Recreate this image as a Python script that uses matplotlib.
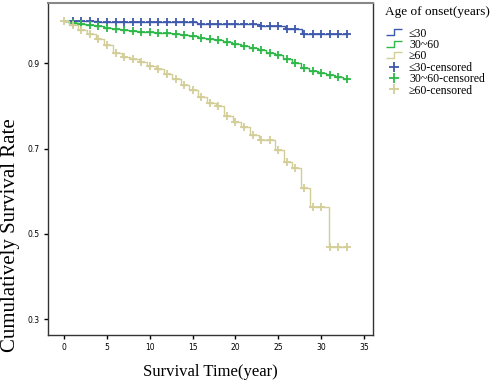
import matplotlib.pyplot as plt
from matplotlib.lines import Line2D
from matplotlib.path import Path
import numpy as np

# Kaplan-Meier curves (event time -> survival after it)
young_times = [3.9, 15.5, 22.8, 25.8, 27.8]
young_surv = [0.997, 0.993, 0.988, 0.980, 0.968]
young_cens = list(range(1, 34))

mid_times = [k - 0.4 for k in range(1, 34)]
mid_surv = [0.995, 0.992, 0.989, 0.987, 0.983, 0.980, 0.977, 0.975, 0.974, 0.973,
            0.971, 0.970, 0.968, 0.966, 0.963, 0.960, 0.957, 0.954, 0.950, 0.945,
            0.940, 0.935, 0.931, 0.925, 0.919, 0.909, 0.901, 0.888, 0.882, 0.877,
            0.872, 0.867, 0.863]
mid_cens = list(range(1, 34))

old_times = [0.6, 1.6, 2.7, 3.7, 4.7, 5.7, 6.7, 7.7, 8.7, 9.7, 10.7, 11.7, 12.6,
             13.6, 14.6, 15.6, 16.7, 17.7, 18.7, 19.7, 20.7, 21.7, 22.7, 24.6,
             25.7, 26.6, 27.6, 28.7, 30.9]
old_surv = [0.989, 0.978, 0.968, 0.956, 0.943, 0.925, 0.915, 0.909, 0.903, 0.894,
            0.886, 0.875, 0.864, 0.849, 0.837, 0.821, 0.807, 0.800, 0.777, 0.763,
            0.751, 0.732, 0.720, 0.696, 0.669, 0.655, 0.607, 0.562, 0.470]
old_cens = list(range(0, 34))

labels = ["≤30", "30~60", "≥60"]
colors = ["#3E58AC", "#2EB848", "#D3CE97"]
end_time = 33

serif = "Liberation Serif"
fig = plt.figure(figsize=(4.96, 3.8), dpi=100)
ax = fig.add_axes([0.097, 0.118, 0.655, 0.874])

groups = [(young_times, young_surv, young_cens),
          (mid_times, mid_surv, mid_cens),
          (old_times, old_surv, old_cens)]

for (t, s, c), col in zip(groups, colors):
    tt = np.r_[0, t, end_time]
    ss = np.r_[1.0, s, s[-1]]
    ax.step(tt, ss, where="post", color=col, lw=1.0)
    idx = np.searchsorted(tt, c, side="right") - 1
    ax.plot(c, ss[idx], "+", color=col, ms=6, mew=1.3, linestyle="none")

ax.set_xlim(-1.87, 36.05)
ax.set_ylim(0.2625, 1.041)
ax.set_xticks(range(0, 40, 5))
ax.set_yticks([0.3, 0.5, 0.7, 0.9])
ax.set_yticklabels(["0.3", "0.5", "0.7", "0.9"])
ax.tick_params(labelsize=5.5, direction="out", length=3, width=1, pad=3)
for sp in ax.spines.values():
    sp.set_color("#333333")
    sp.set_linewidth(1.0)
ax.spines["top"].set_color("#888888")
ax.spines["top"].set_linewidth(1.5)

ax.set_xlabel("Survival Time(year)", fontsize=12, family=serif, labelpad=8)
ax.set_ylabel("Cumulatively Survival Rate", fontsize=15, family=serif)
ax.yaxis.set_label_coords(-0.085, 0.30)

# legend: step icons for curves, + for censored
fig.text(0.776, 0.985, "Age of onset(years)", family=serif, fontsize=9.5, va="top")
step_path = Path([(-1.0, -0.4), (0.0, -0.4), (0.0, 0.4), (1.0, 0.4)],
                 [Path.MOVETO, Path.LINETO, Path.LINETO, Path.LINETO])
handles = []
for col in colors:
    handles.append(Line2D([], [], marker=step_path, markersize=11, markerfacecolor="none",
                          markeredgecolor=col, markeredgewidth=1.0, linestyle="none"))
for col in colors:
    handles.append(Line2D([], [], marker="+", markersize=7, mew=1.3, color=col,
                          linestyle="none"))
leg_labels = labels + [l + "-censored" for l in labels]
leg = fig.legend(handles, leg_labels, loc="upper left", bbox_to_anchor=(0.765, 0.94),
                 frameon=False, prop={"family": serif, "size": 8.5}, handlelength=1.6,
                 handletextpad=0.5, labelspacing=-0.05, borderaxespad=0)

fig.savefig("out.png", dpi=100)
